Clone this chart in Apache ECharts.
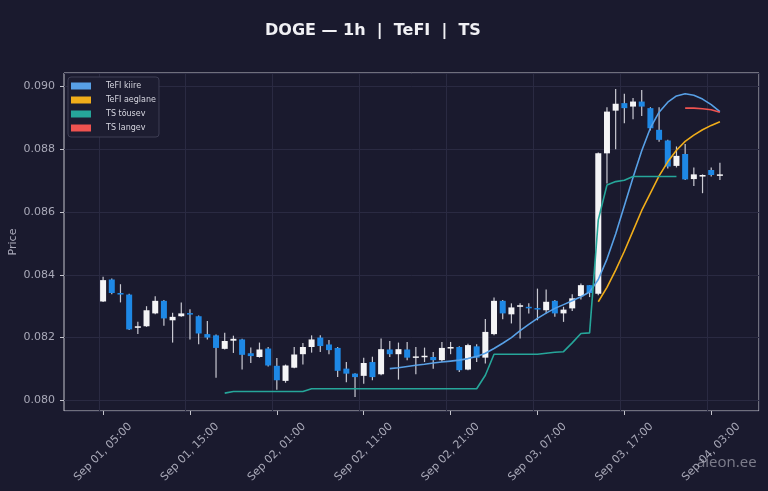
<!DOCTYPE html>
<html>
<head>
<meta charset="utf-8">
<script src="https://cdn.jsdelivr.net/npm/echarts@6/dist/echarts.min.js"></script>
<style>
  html, body { margin: 0; padding: 0; background: #1a1a2e; }
  #chart { width: 768px; height: 491px; }
</style>
</head>
<body>
<div id="chart"></div>
<script>
'use strict';

// hourly candles, Sep 01 05:00 .. Sep 04 04:00
var firstHour = Date.UTC(2025, 8, 1, 5);
var padBefore = 4, padAfter = 4;

var opens = [
  0.08315, 0.08385, 0.08342, 0.08337, 0.08231, 0.08236, 0.08277, 0.08317, 0.08255, 0.08268,
  0.08278, 0.08268, 0.08211, 0.08207, 0.08164, 0.08190, 0.08194, 0.08150, 0.08138, 0.08165,
  0.08110, 0.08062, 0.08104, 0.08147, 0.08170, 0.08200, 0.08178, 0.08167, 0.08101, 0.08085,
  0.08078, 0.08122, 0.08083, 0.08162, 0.08147, 0.08162, 0.08136, 0.08138, 0.08138, 0.08128,
  0.08165, 0.08170, 0.08098, 0.08172, 0.08136, 0.08211, 0.08317, 0.08274, 0.08298, 0.08298,
  0.08294, 0.08287, 0.08317, 0.08277, 0.08293, 0.08332, 0.08367, 0.08340, 0.08787, 0.08923,
  0.08947, 0.08936, 0.08952, 0.08931, 0.08862, 0.08828, 0.08747, 0.08785, 0.08705, 0.08713,
  0.08734, 0.08716
];
var closes = [
  0.08383, 0.08342, 0.08337, 0.08226, 0.08236, 0.08287, 0.08317, 0.08261, 0.08266, 0.08277,
  0.08275, 0.08213, 0.08200, 0.08167, 0.08189, 0.08196, 0.08145, 0.08141, 0.08162, 0.08111,
  0.08064, 0.08111, 0.08146, 0.08170, 0.08194, 0.08173, 0.08160, 0.08094, 0.08085, 0.08074,
  0.08119, 0.08074, 0.08163, 0.08147, 0.08163, 0.08136, 0.08140, 0.08142, 0.08128, 0.08167,
  0.08170, 0.08096, 0.08176, 0.08136, 0.08218, 0.08317, 0.08277, 0.08296, 0.08303, 0.08297,
  0.08292, 0.08314, 0.08277, 0.08289, 0.08325, 0.08367, 0.08342, 0.08787, 0.08920, 0.08945,
  0.08931, 0.08952, 0.08936, 0.08867, 0.08830, 0.08745, 0.08779, 0.08704, 0.08720, 0.08718,
  0.08718, 0.08720
];
var lows = [
  0.08313, 0.08338, 0.08312, 0.08224, 0.08211, 0.08234, 0.08274, 0.08238, 0.08184, 0.08266,
  0.08194, 0.08179, 0.08194, 0.08072, 0.08162, 0.08151, 0.08098, 0.08119, 0.08136, 0.08108,
  0.08034, 0.08056, 0.08102, 0.08114, 0.08152, 0.08154, 0.08147, 0.08074, 0.08058, 0.08011,
  0.08053, 0.08064, 0.08080, 0.08138, 0.08066, 0.08128, 0.08083, 0.08122, 0.08101, 0.08122,
  0.08147, 0.08090, 0.08096, 0.08122, 0.08117, 0.08207, 0.08258, 0.08245, 0.08197, 0.08277,
  0.08255, 0.08277, 0.08266, 0.08250, 0.08285, 0.08321, 0.08329, 0.08335, 0.08691, 0.08800,
  0.08883, 0.08896, 0.08906, 0.08860, 0.08824, 0.08739, 0.08742, 0.08702, 0.08683, 0.08660,
  0.08713, 0.08702
];
var highs = [
  0.08394, 0.08388, 0.08370, 0.08340, 0.08250, 0.08300, 0.08332, 0.08320, 0.08279, 0.08312,
  0.08290, 0.08270, 0.08253, 0.08210, 0.08215, 0.08206, 0.08196, 0.08168, 0.08184, 0.08170,
  0.08135, 0.08114, 0.08170, 0.08183, 0.08207, 0.08207, 0.08192, 0.08170, 0.08122, 0.08086,
  0.08136, 0.08139, 0.08197, 0.08189, 0.08184, 0.08186, 0.08170, 0.08168, 0.08154, 0.08186,
  0.08186, 0.08172, 0.08180, 0.08179, 0.08259, 0.08328, 0.08320, 0.08309, 0.08309, 0.08309,
  0.08356, 0.08353, 0.08320, 0.08298, 0.08338, 0.08372, 0.08367, 0.08790, 0.08934, 0.08992,
  0.08977, 0.08963, 0.08989, 0.08934, 0.08934, 0.08830, 0.08809, 0.08817, 0.08742, 0.08720,
  0.08742, 0.08757
];

// indicators: first candle index + values
var tefiFastStart = 33;
var tefiFast = [
  0.08101, 0.08104, 0.08108, 0.08112, 0.08115, 0.08119, 0.08122, 0.08125, 0.08128, 0.08133,
  0.08140, 0.08150, 0.08165, 0.08182, 0.08200, 0.08222, 0.08242, 0.08261, 0.08278, 0.08293,
  0.08305, 0.08317, 0.08330, 0.08345, 0.08385, 0.08450, 0.08530, 0.08620, 0.08710, 0.08795,
  0.08868, 0.08918, 0.08950, 0.08970, 0.08977, 0.08972, 0.08960, 0.08942, 0.08920
];
var tefiSlowStart = 57;
var tefiSlow = [
  0.08314, 0.08360, 0.08415, 0.08475, 0.08540, 0.08605, 0.08660, 0.08715, 0.08760, 0.08797,
  0.08825, 0.08845, 0.08862, 0.08876, 0.08888
];
var tsUpStart = 14;
var tsUp = [
  0.08023, 0.08028, 0.08028, 0.08028, 0.08028, 0.08028, 0.08028, 0.08028, 0.08028, 0.08028,
  0.08037, 0.08037, 0.08037, 0.08037, 0.08037, 0.08037, 0.08037, 0.08037, 0.08037, 0.08037,
  0.08037, 0.08037, 0.08037, 0.08037, 0.08037, 0.08037, 0.08037, 0.08037, 0.08037, 0.08037,
  0.08080, 0.08147, 0.08147, 0.08147, 0.08147, 0.08147, 0.08147, 0.08150, 0.08153, 0.08155,
  0.08183, 0.08213, 0.08215, 0.08575, 0.08686, 0.08697, 0.08701, 0.08713, 0.08713, 0.08713,
  0.08713, 0.08713, 0.08713
];
var tsDownStart = 67;
var tsDown = [0.08931, 0.08931, 0.08929, 0.08926, 0.08918];

var seriesNames = ['TeFI kiire', 'TeFI aeglane', 'TS tõusev', 'TS langev'];
var seriesColors = ['#58a0e6', '#f0ad1a', '#26a69a', '#ef5350'];

var bg = '#1a1a2e';
var textGray = '#a9a9b8';
var upColor = '#f4f4f6';
var downColor = '#1e88e5';
var wickColor = '#c9c9d2';

var monthNames = ['Jan', 'Feb', 'Mar', 'Apr', 'May', 'Jun', 'Jul', 'Aug', 'Sep', 'Oct', 'Nov', 'Dec'];
function pad2(n) { return (n < 10 ? '0' : '') + n; }
function hourLabel(ms) {
  var d = new Date(ms);
  return monthNames[d.getUTCMonth()] + ' ' + pad2(d.getUTCDate()) + ', ' + pad2(d.getUTCHours()) + ':00';
}

var total = padBefore + opens.length + padAfter;
var categories = [];
for (var i = 0; i < total; i++) {
  categories.push(hourLabel(firstHour + (i - padBefore) * 3600 * 1000));
}

var candleData = [];
for (var k = 0; k < opens.length; k++) {
  candleData.push([k + padBefore, opens[k], closes[k], lows[k], highs[k]]);
}

function lineData(start, values) {
  var out = [];
  for (var i = 0; i < total; i++) {
    var k = i - padBefore - start;
    out.push(k >= 0 && k < values.length ? values[k] : '-');
  }
  return out;
}

function isTick(index) {
  var k = index - padBefore;
  return k >= 0 && k < opens.length && k % 10 === 0;
}

function renderCandle(params, api) {
  var idx = api.value(0);
  var o = api.value(1), c = api.value(2);
  var pO = api.coord([idx, o]);
  var pC = api.coord([idx, c]);
  var pL = api.coord([idx, api.value(3)]);
  var pH = api.coord([idx, api.value(4)]);
  var bw = 6;
  var top = Math.min(pO[1], pC[1]);
  var h = Math.max(Math.abs(pO[1] - pC[1]), 1.5);
  return {
    type: 'group',
    children: [
      {
        type: 'line',
        shape: { x1: pH[0], y1: pH[1], x2: pL[0], y2: pL[1] },
        style: { stroke: wickColor, lineWidth: 1.2 }
      },
      {
        type: 'rect',
        shape: { x: pO[0] - bw / 2, y: top, width: bw, height: h },
        style: { fill: c >= o ? upColor : downColor }
      }
    ]
  };
}

var lineStarts = [tefiFastStart, tefiSlowStart, tsUpStart, tsDownStart];
var lineValues = [tefiFast, tefiSlow, tsUp, tsDown];

var series = [{
  type: 'custom',
  name: 'candles',
  renderItem: renderCandle,
  encode: { x: 0, y: [1, 2, 3, 4] },
  data: candleData,
  z: 1
}];
for (var s = 0; s < seriesNames.length; s++) {
  series.push({
    type: 'line',
    name: seriesNames[s],
    data: lineData(lineStarts[s], lineValues[s]),
    showSymbol: false,
    smooth: false,
    lineStyle: { color: seriesColors[s], width: 1.6 },
    itemStyle: { color: seriesColors[s] },
    z: 3
  });
}

var chart = echarts.init(document.getElementById('chart'));
chart.setOption({
  backgroundColor: bg,
  animation: false,
  title: {
    text: 'DOGE — 1h  |  TeFI  |  TS',
    left: 265,
    top: 23,
    padding: 0,
    textStyle: { color: '#f0f0f4', fontSize: 16, fontWeight: 'bold', fontFamily: 'DejaVu Sans' }
  },
  legend: {
    data: seriesNames.map(function (n) { return { name: n, icon: 'rect' }; }),
    orient: 'vertical',
    left: 68,
    top: 77,
    padding: [4, 3, 4, 3],
    itemWidth: 20,
    itemHeight: 7,
    itemGap: 4,
    backgroundColor: '#1d1d31',
    borderColor: '#3e3e54',
    borderWidth: 1,
    borderRadius: 3,
    textStyle: { color: '#d6d6e0', fontSize: 8, lineHeight: 10, fontFamily: 'DejaVu Sans', padding: [0, 0, 0, 10] }
  },
  grid: {
    left: 64,
    right: 9,
    top: 73,
    bottom: 80,
    outerBoundsMode: 'none',
    containLabel: false,
    show: true,
    backgroundColor: bg,
    borderColor: '#c4c4cc',
    borderWidth: 1
  },
  xAxis: {
    type: 'category',
    data: categories,
    boundaryGap: true,
    axisLine: { show: false },
    axisTick: {
      show: true,
      alignWithLabel: true,
      interval: function (index) { return isTick(index); },
      length: 4,
      lineStyle: { color: '#c4c4cc' }
    },
    axisLabel: {
      interval: function (index) { return isTick(index); },
      rotate: 45,
      align: 'center',
      verticalAlign: 'middle',
      margin: 41,
      color: textGray,
      fontSize: 11,
      fontFamily: 'DejaVu Sans'
    },
    splitLine: {
      show: true,
      interval: function (index) { return isTick(index); },
      lineStyle: { color: '#2a2a42', width: 1 }
    }
  },
  yAxis: {
    type: 'value',
    min: 0.07966,
    max: 0.09043,
    splitNumber: 5,
    scale: true,
    name: 'Price',
    nameLocation: 'middle',
    nameGap: 45,
    nameMoveOverlap: false,
    nameTextStyle: { color: textGray, fontSize: 11, fontFamily: 'DejaVu Sans' },
    axisLine: { show: false },
    axisTick: { show: true, length: 4, lineStyle: { color: '#c4c4cc' } },
    axisLabel: {
      showMinLabel: false,
      showMaxLabel: false,
      margin: 9,
      color: textGray,
      fontSize: 11,
      fontFamily: 'DejaVu Sans',
      formatter: function (v) { return v.toFixed(3); }
    },
    splitLine: { show: true, lineStyle: { color: '#2a2a42', width: 1 } }
  },
  graphic: [{
    type: 'text',
    left: 697,
    top: 455,
    style: { text: 'aieon.ee', fill: 'rgba(205,205,215,0.55)', font: '15px "Open Sans"' }
  }],
  series: series
});
</script>
</body>
</html>
